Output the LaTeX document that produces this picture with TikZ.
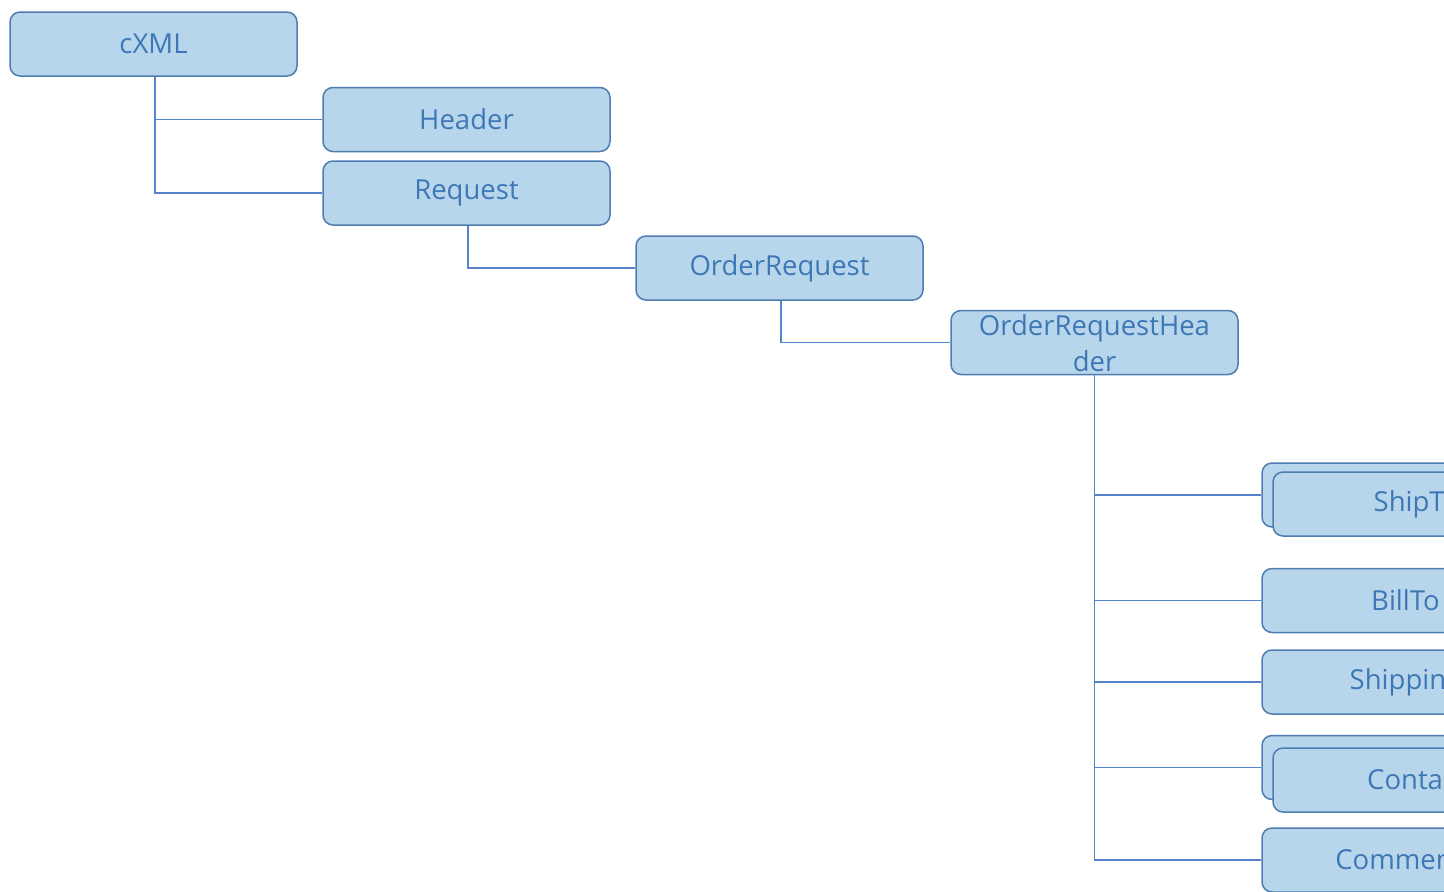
\documentclass[tikz,border=0pt]{standalone}
\usepackage{fontspec}
\setmainfont{Open Sans}
\definecolor{boxfill}{HTML}{B8D6EB}
\definecolor{bord}{HTML}{4F7DB2}
\definecolor{txt}{HTML}{3E77B6}
\definecolor{conn}{HTML}{5684CC}
\tikzset{
  box/.style={draw=bord, fill=boxfill, line width=1.5pt, rounded corners=10pt,
    minimum width=287pt, minimum height=64pt, inner sep=0pt, text=txt,
    font=\fontsize{27.5}{36}\selectfont},
  lbl/.style={text=txt, font=\fontsize{27.5}{36}\selectfont, align=center, inner sep=0pt},
  conn/.style={draw=conn, line width=1.6pt}
}
\begin{document}
\begin{tikzpicture}[x=1pt,y=-1pt]
\useasboundingbox (0,0) rectangle (1444,892);
\clip (0,0) rectangle (1444,892);
\node[box] (cxml) at (153.5,44) {cXML};
\node[box] (header) at (466.5,119.5) {Header};
\node[box] (request) at (466.5,193) {Request};
\node[box] (orderreq) at (779.5,268) {OrderRequest};
\node[box] (orh) at (1094.5,342.5) {};
\node[lbl] (orhtext) at (1094.5,343) {OrderRequestHea\\der};
% right column
\node[box] (shiptoback) at (1405.5,495) {};
\node[box] (shipto) at (1416.5,504) {ShipTo};
\node[box] (billto) at (1405.5,600.5) {BillTo};
\node[box] (shipping) at (1405.5,682) {Shipping};
\node[box] (contactback) at (1405.5,767.5) {};
\node[box] (contact) at (1416.5,780) {Contact};
\node[box] (comments) at (1405.5,860) {Comments};
% connectors
\coordinate (c1) at (155,119.5);
\coordinate (c2) at (155,193);
\draw[conn] (cxml.south -| c1) -- (c2) -- (request.west);
\draw[conn] (c1) -- (header.west);
\draw[conn] (request.south -| 468,0) |- (orderreq.west);
\draw[conn] (orderreq.south -| 781,0) |- (orh.west);
\coordinate (v1) at (1094.5,495);
\coordinate (v2) at (1094.5,600.5);
\coordinate (v3) at (1094.5,682);
\coordinate (v4) at (1094.5,767.5);
\coordinate (v5) at (1094.5,860);
\draw[conn] (orh.south) -- (v5) -- (comments.west);
\draw[conn] (v1) -- (shiptoback.west);
\draw[conn] (v2) -- (billto.west);
\draw[conn] (v3) -- (shipping.west);
\draw[conn] (v4) -- (contactback.west);
\end{tikzpicture}
\end{document}
